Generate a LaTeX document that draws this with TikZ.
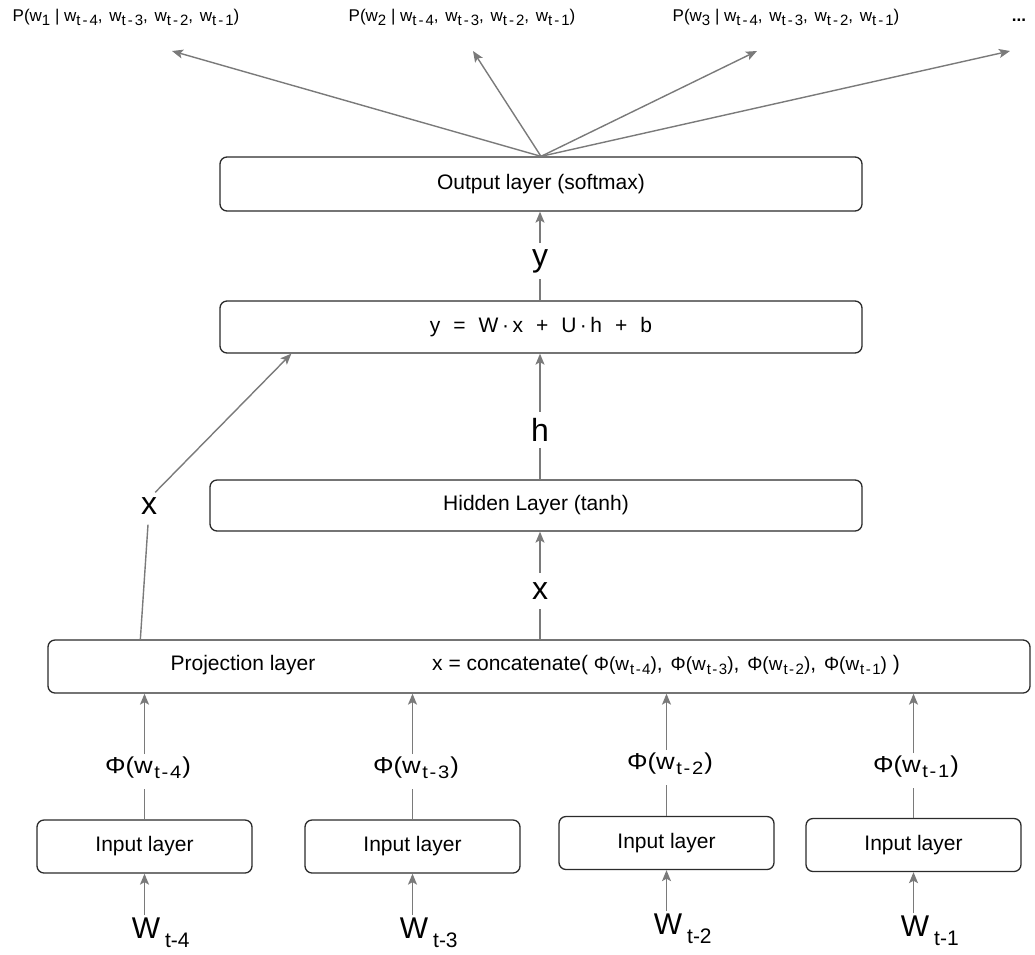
\documentclass[tikz,border=0pt]{standalone}
\usepackage{fontspec}
\usepackage{graphicx}
\setmainfont{Liberation Sans}
\usetikzlibrary{arrows.meta,calc}

% font size helper and lowered small text for indices
\newcommand\fs[1]{\fontsize{#1}{#1}\selectfont}
\newcommand\lowtxt[3]{\raisebox{-#2}{\fs{#1}#3}}
% index "t-n" with a little extra spacing
\newcommand\tix[2]{t\kern#2-\kern#2#1}
% w with index, small (top probabilities)
\newcommand\pw[1]{w\lowtxt{15}{4pt}{\tix{#1}{2pt}}}
\newcommand\psep{,\kern2pt\ }
\newcommand\prob[1]{P(w\lowtxt{15}{4pt}{#1} | \pw{4}\psep\pw{3}\psep\pw{2}\psep\pw{1})}
% Phi(w_i) inside the projection box
\newcommand\cphi[1]{{\fs{19}Φ(w\kern1pt\lowtxt{15}{4pt}{\tix{#1}{1.5pt}})}}
% Phi(w_i) label on an embedding connector
\newcommand\phil[1]{\scalebox{1.12}[1]{Φ(w\kern1.5pt\lowtxt{18}{5pt}{\tix{#1}{1.5pt}}\kern1pt)}}
% input word W_i
\newcommand\wordw[1]{W\rlap{\,\lowtxt{21}{9pt}{t-#1}}}

\definecolor{arrowgray}{HTML}{7A7A7A}
\definecolor{boxline}{HTML}{2B2B2B}

\begin{document}
\begin{tikzpicture}[x=1pt,y=-1pt,
  layer/.style={draw=boxline, line width=1.3pt, rounded corners=7pt,
    fill=white, inner sep=0pt, font=\fs{21}},
  flow/.style={draw=arrowgray, line width=1.4pt,
    -{Stealth[length=11pt,width=9pt,inset=2.5pt]}},
  plain/.style={draw=arrowgray, line width=1.4pt},
  varlabel/.style={font=\fs{32}, inner sep=0pt, minimum height=36pt},
  philabel/.style={font=\fs{23}, inner xsep=0pt, inner ysep=2pt, anchor=base, text depth=14pt},
  wordlabel/.style={font=\fs{30}, inner sep=2pt, anchor=base},
  problabel/.style={font=\fs{17}, inner sep=0pt}
]
\useasboundingbox (0,0) rectangle (1035,954);

% ---- layers ----
\node[layer, minimum width=642pt, minimum height=54pt] (out)  at (541,184)   {Output layer (softmax)};
\node[layer, minimum width=642pt, minimum height=52pt] (ybox) at (541,327)
  {y\hspace{0.62em}=\hspace{0.62em}W\,·\,x\hspace{0.62em}+\hspace{0.62em}U\,·\,h\hspace{0.62em}+\hspace{0.62em}b};
\node[layer, minimum width=652pt, minimum height=51pt] (hid)  at (536,505.5) {Hidden Layer (tanh)};
\node[layer, minimum width=982pt, minimum height=53pt] (proj) at (539,666.5) {};
\node[font=\fs{21}, inner sep=0pt] (projt) at (243,665) {Projection layer};
\node[font=\fs{21}, inner sep=0pt, anchor=west] (concat) at (432,665)
  {x = concatenate( \cphi{4}\psep\cphi{3}\psep\cphi{2}\psep\cphi{1} )};

\node[layer, minimum width=215pt, minimum height=53pt] (in1) at (144.5,846.5) {Input layer};
\node[layer, minimum width=215pt, minimum height=53pt] (in2) at (412.5,846.5) {Input layer};
\node[layer, minimum width=215pt, minimum height=53pt] (in3) at (666.5,843)   {Input layer};
\node[layer, minimum width=215pt, minimum height=53pt] (in4) at (913.5,845)   {Input layer};

% ---- output probabilities ----
\node[problabel] (p1) at (126,17) {\prob{1}};
\node[problabel] (p2) at (462,17) {\prob{2}};
\node[problabel] (p3) at (786,17) {\prob{3}};
\node[problabel] (pdots) at (1019,20) {\textbf{...}};
\coordinate (t1) at (172,51);
\coordinate (t2) at (473,51);
\coordinate (t3) at (757,51);
\coordinate (t4) at (1010,51);
\foreach \t in {t1,t2,t3,t4} \draw[flow] (out.north) -- (\t);

% ---- inner variables ----
\node[varlabel] (ylab) at (540,261) {y};
\node[varlabel] (hlab) at (540,430) {h};
\node[varlabel] (xlab) at (540,591) {x};
\node[varlabel, minimum height=0pt, inner sep=2pt] (xskip) at (149,506) {x};

\draw[plain] (ybox.north -| ylab) -- (ylab.south);
\draw[flow]  (ylab.north) -- (out.south -| ylab);
\draw[plain] (hid.north -| hlab) -- (hlab.south);
\draw[flow]  (hlab.north) -- (ybox.south -| hlab);
\draw[plain] (proj.north -| xlab) -- (xlab.south);
\draw[flow]  (xlab.north) -- (hid.south -| xlab);

% direct link from the projection to the linear combination
\coordinate (xskipfrom) at ($(proj.north west)+(93,0)$);
\coordinate (xskipto)   at ($(ybox.south west)+(72,0)$);
\draw[plain] (xskipfrom) -- ($(xskip.south)+(-1,8)$);
\draw[flow]  ($(xskip.north east)+(-4,-3)$) -- (xskipto);

% ---- embeddings ----
\node[philabel] (phi1) at (148,773) {\phil{4}};
\node[philabel] (phi2) at (416,773) {\phil{3}};
\node[philabel] (phi3) at (670,769) {\phil{2}};
\node[philabel] (phi4) at (916,772) {\phil{1}};

\foreach \i in {1,2,3,4} {
  \draw[plain] (in\i.north) -- (in\i.north |- phi\i.south);
  \draw[flow]  (in\i.north |- phi\i.north) -- (in\i.north |- proj.south);
}

% ---- input words ----
\node[wordlabel] (w1) at (146,938) {\wordw{4}};
\node[wordlabel] (w2) at (414,938) {\wordw{3}};
\node[wordlabel] (w3) at (668,934) {\wordw{2}};
\node[wordlabel] (w4) at (915,936) {\wordw{1}};

\foreach \i in {1,2,3,4}
  \draw[flow] (in\i.south |- w\i.north) -- (in\i.south);

\end{tikzpicture}
\end{document}
